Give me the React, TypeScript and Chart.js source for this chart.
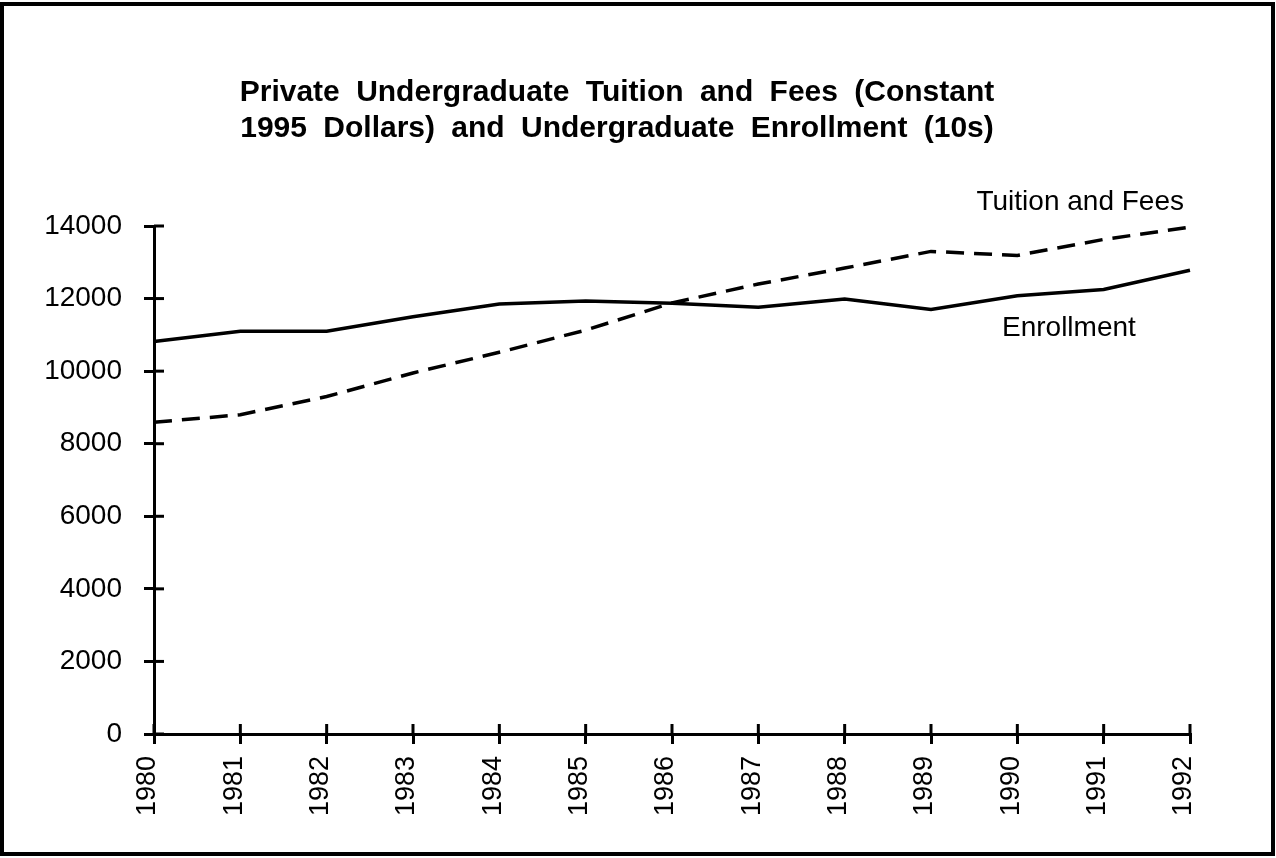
import React, { useEffect, useRef } from "react";
import { Chart, registerables } from "chart.js";

Chart.register(...registerables);

const years = ["1980", "1981", "1982", "1983", "1984", "1985", "1986", "1987", "1988", "1989", "1990", "1991", "1992"];
const enrollment = [10820, 11100, 11100, 11500, 11850, 11930, 11870, 11760, 11990, 11700, 12080, 12250, 12780];
const tuition = [8590, 8800, 9300, 9950, 10520, 11130, 11880, 12400, 12840, 13300, 13190, 13630, 13970];
const titleLines = [
  "Private Undergraduate Tuition and Fees (Constant",
  "1995 Dollars) and Undergraduate Enrollment (10s)",
];
const tuitionLabel = "Tuition and Fees";
const enrollmentLabel = "Enrollment";

const FONT = "'Liberation Sans', Arial, Helvetica, sans-serif";

const decorPlugin = {
  id: "decor",
  beforeDraw(chart: any) {
    const ctx = chart.ctx;
    ctx.save();
    ctx.fillStyle = "#ffffff";
    ctx.fillRect(0, 0, chart.width, chart.height);
    ctx.restore();
  },
  afterDraw(chart: any) {
    const ctx = chart.ctx;
    const area = chart.chartArea;
    const xs = chart.scales.x;
    const ys = chart.scales.y;
    ctx.save();
    // inward tick halves
    ctx.strokeStyle = "#000";
    ctx.lineWidth = 3;
    ys.ticks.forEach((_t: any, i: number) => {
      const p = ys.getPixelForTick(i);
      ctx.beginPath();
      ctx.moveTo(area.left, p);
      ctx.lineTo(area.left + 10, p);
      ctx.stroke();
    });
    xs.ticks.forEach((_t: any, i: number) => {
      const p = xs.getPixelForTick(i);
      ctx.beginPath();
      ctx.moveTo(p, area.bottom);
      ctx.lineTo(p, area.bottom - 10);
      ctx.stroke();
    });
    // title
    ctx.fillStyle = "#000";
    ctx.font = `bold 30px ${FONT}`;
    ctx.textAlign = "center";
    ctx.textBaseline = "alphabetic";
    try { (ctx as any).wordSpacing = "8px"; } catch (e) {}
    ctx.fillText(titleLines[0], 617, 101);
    ctx.fillText(titleLines[1], 617, 137);
    try { (ctx as any).wordSpacing = "0px"; } catch (e) {}
    // series labels
    const xLast = xs.getPixelForValue(years.length - 1);
    ctx.font = `28px ${FONT}`;
    ctx.textAlign = "right";
    ctx.fillText(tuitionLabel, xLast - 6, area.top - 16);
    ctx.textAlign = "left";
    ctx.fillText(enrollmentLabel, xLast - 188, area.top + 110);
    // frame
    ctx.lineWidth = 4;
    ctx.strokeRect(2, 4, 1271, 850);
    ctx.restore();
  },
};

export default function App() {
  const ref = useRef<HTMLCanvasElement | null>(null);
  useEffect(() => {
    if (!ref.current) return;
    const chart = new Chart(ref.current, {
      type: "line",
      data: {
        labels: years,
        datasets: [
          {
            label: "Enrollment",
            data: enrollment,
            borderColor: "#000",
            borderWidth: 3.5,
            pointRadius: 0,
            tension: 0,
            fill: false,
          },
          {
            label: "Tuition and Fees",
            data: tuition,
            borderColor: "#000",
            borderWidth: 3.5,
            borderDash: [18, 10],
            pointRadius: 0,
            tension: 0,
            fill: false,
          },
        ],
      },
      options: {
        responsive: false,
        animation: false,
        events: [],
        layout: { padding: { top: 226, right: 86, left: 0, bottom: 0 } },
        plugins: {
          legend: { display: false },
          title: { display: false },
          tooltip: { enabled: false },
        },
        scales: {
          x: {
            type: "category",
            offset: false,
            grid: { drawOnChartArea: false, drawTicks: true, tickLength: 10, color: "#000", lineWidth: 3 },
            border: { display: true, color: "#000", width: 3 },
            ticks: {
              color: "#000",
              font: { family: FONT, size: 27 },
              minRotation: 90,
              maxRotation: 90,
              padding: 12,
              labelOffset: -6,
              autoSkip: false,
            },
            afterFit: (s: any) => { s.height = 124; },
          },
          y: {
            min: 0,
            max: 14000,
            grid: { drawOnChartArea: false, drawTicks: true, tickLength: 10, color: "#000", lineWidth: 3 },
            border: { display: true, color: "#000", width: 3 },
            ticks: {
              color: "#000",
              stepSize: 2000,
              font: { family: FONT, size: 28 },
              padding: 22,
              callback: (v: any) => String(v),
            },
            afterFit: (s: any) => { s.width = 154; },
          },
        },
      },
      plugins: [decorPlugin],
    });
    return () => chart.destroy();
  }, []);
  return (
    <div style={{ position: "absolute", left: 0, top: 0, width: 1276, height: 858, background: "#fff" }}>
      <canvas ref={ref} width={1276} height={858} style={{ width: 1276, height: 858, display: "block" }} />
    </div>
  );
}
